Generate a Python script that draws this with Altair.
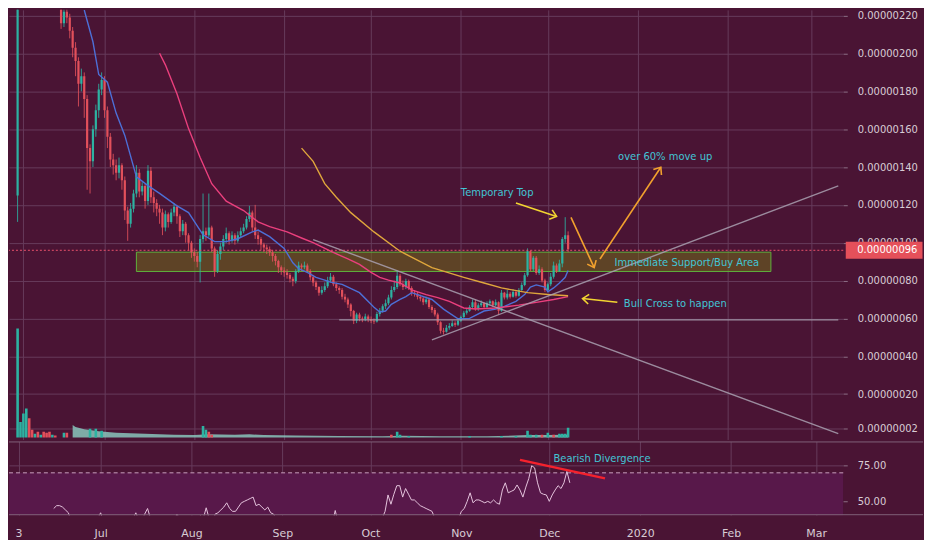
import altair as alt
import pandas as pd

# ---------------- values (prices in units of 1e-8) ----------------
first_open = 224
jun_close = [216, 222, 219, 212, 203, 196, 184, 188, 176, 150, 143, 160, 170, 181, 186]
jun_high = [226, 225, 224, 221, 214, 206, 198, 192, 190, 178, 152, 162, 173, 184, 190]
jun_low = [213, 214, 216, 208, 198, 188, 172, 180, 166, 128, 126, 140, 156, 166, 178]

jul_close = [170, 156, 144, 141, 137, 141, 133, 117, 110, 118, 126, 137, 127, 130, 122, 138,
             124, 121, 118, 116, 108, 115, 111, 116, 119, 114, 106, 110, 104, 100, 95]
jul_high = [188, 172, 158, 147, 144, 145, 142, 135, 119, 121, 128, 141, 139, 132, 131, 141,
            140, 127, 123, 120, 118, 117, 116, 118, 121, 120, 115, 112, 111, 105, 101]
jul_low = [166, 150, 140, 136, 133, 134, 128, 112, 101, 108, 116, 124, 124, 125, 118, 120,
           121, 116, 114, 110, 104, 106, 108, 110, 114, 110, 103, 104, 100, 96, 92]

aug_close = [93, 90, 102, 106, 104, 108, 97, 85, 94, 98, 102, 105, 101, 104, 101, 104,
             106, 108, 112.5, 116, 108, 104, 102, 99, 97.5, 96.5, 95, 93, 90.4, 87, 85.3]
aug_high = [97, 95, 104, 126, 108, 126, 109, 98, 96, 100, 104, 108, 106, 106, 105, 106,
            108, 110, 114, 119.5, 117, 120, 106, 103, 100, 99, 98, 96, 94, 91, 88]
aug_low = [90, 87, 79, 100, 101, 103, 95, 82, 84, 91, 96, 100, 99, 100, 99, 100,
           103, 105, 107, 111, 106, 102, 99, 96, 95, 94, 93, 90, 88, 84, 83]

sep_close = [84.3, 83, 81, 79.7, 85, 88, 87, 88, 85, 81.7, 79, 76.6, 73.6, 75, 77, 80,
             82, 78, 76, 75, 71.5, 70, 67.4, 63.9, 58.8, 62, 60, 59.5, 61, 59.5]
sep_high = [87, 86, 84, 82, 86, 90, 89, 90, 89, 86, 83, 80, 77, 77, 79, 82,
            84, 83, 79, 77, 76, 73, 71, 68, 64.5, 63, 63, 61, 62.5, 62]
sep_low = [82, 81, 79, 77, 78.5, 84, 85, 86, 84, 80, 77, 75, 72, 72.5, 74, 76,
           79, 77, 74.5, 73, 70, 68.5, 65.5, 61, 57, 57.5, 58.5, 58, 58.5, 58]

oct_close = [58.8, 58.3, 62.3, 64, 66.4, 68, 71, 75, 76.6, 82.5, 78, 76.6, 79.7, 76, 73.6, 73,
             71.5, 70.5, 68.5, 70, 66, 64.5, 62, 58, 53.5, 53, 55, 56, 57.5, 56.7, 58.8]
oct_high = [61, 60, 63.5, 65.5, 67.5, 70, 72.5, 77, 80, 85.3, 83.5, 80, 81, 80.5, 77, 75,
            74, 72.5, 71.5, 71.5, 71, 67, 65.5, 63, 58.5, 55, 56.5, 57.5, 59, 58.5, 60]
oct_low = [57.5, 57, 57.8, 61, 63, 65, 67, 70, 74, 75.5, 77, 75, 75.5, 75, 72, 71.5,
           70, 69, 67, 67.5, 65, 63, 61, 56.5, 52, 51.5, 52.5, 54, 55.5, 55.5, 56]

nov_close = [60.8, 63, 64, 66, 68.5, 65, 67, 68, 66, 68, 69, 67, 68.5, 64, 73.6, 71,
             73, 71.5, 74, 72, 75, 77.7, 82.8, 95.5, 86, 92, 84, 86, 80, 75]
nov_high = [61.5, 64, 65, 67, 70, 70, 68, 69.5, 68.5, 69, 70, 69.5, 70, 69, 75, 74,
            75, 74, 75.5, 74.5, 76, 79, 84, 97, 96, 93, 93, 88, 87, 81]
nov_low = [58, 60, 62, 63.5, 65.5, 64, 64, 66, 65, 65.5, 67, 66, 66.5, 62, 63.5, 70,
           70, 70.5, 71, 71, 71.5, 74.5, 77, 82, 85, 85, 83, 83, 79, 74]

dec_close = [78, 82, 88, 85, 89, 102, 104, 96.5]
dec_high = [79, 84, 90, 89, 91, 103, 113.5, 106]
dec_low = [74, 77, 81, 84, 84.5, 87, 100, 95]

# the early pump candle of 1 June (mostly above the visible range)
big_candle = {"date": "2019-06-01T00:00:00", "open": 125, "close": 250, "high": 255, "low": 111}

# volume bars (arbitrary units) and volume average area
vol_dates = ["2019-06-01", "2019-06-02", "2019-06-03", "2019-06-04", "2019-06-05", "2019-06-06",
             "2019-06-07", "2019-06-08", "2019-06-09", "2019-06-10", "2019-06-11", "2019-06-12",
             "2019-06-13", "2019-06-14", "2019-06-17", "2019-06-18", "2019-06-26", "2019-06-28",
             "2019-06-30", "2019-08-04", "2019-08-05", "2019-08-06", "2019-08-07", "2019-10-08",
             "2019-10-10", "2019-10-11", "2019-10-14", "2019-11-04", "2019-11-15", "2019-11-20",
             "2019-11-24", "2019-11-25", "2019-11-27", "2019-11-29", "2019-12-01", "2019-12-03",
             "2019-12-05", "2019-12-06", "2019-12-07", "2019-12-08"]
vol_vals = [113, 16, 25, 30, 20, 8, 4, 6, 3, 6, 5, 6, 3, 2, 5, 5, 9, 9, 7, 12, 8, 6, 3, 3,
            6, 3, 1.5, 1.5, 1.5, 1.5, 7, 3, 3, 3, 5, 3, 4, 4, 4, 10]
vol_dirs = ["up", "up", "up", "up", "down", "down", "up", "down", "up", "down", "down", "down",
            "up", "down", "up", "down", "up", "up", "up", "up", "up", "down", "down", "down",
            "up", "up", "up", "up", "up", "up", "up", "up", "up", "down", "up", "down",
            "up", "up", "up", "up"]
vma_dates = ["2019-06-20", "2019-06-21", "2019-06-24", "2019-06-29", "2019-07-05", "2019-07-15",
             "2019-07-25", "2019-08-01", "2019-08-06", "2019-08-15", "2019-08-20", "2019-08-25",
             "2019-09-05", "2019-09-20", "2019-10-05", "2019-10-12", "2019-10-25", "2019-11-10",
             "2019-11-24", "2019-12-01", "2019-12-08"]
vma_vals = [13, 11, 8.5, 6.5, 5, 4, 3, 2.5, 3.5, 3, 3.3, 2.5, 2, 1.5, 1.3, 1.8, 1.3, 1.2,
            2.5, 2.5, 3]

# moving averages
blue_dates = ["2019-06-24", "2019-06-27", "2019-06-29", "2019-07-02", "2019-07-05", "2019-07-08",
              "2019-07-12", "2019-07-16", "2019-07-20", "2019-07-26", "2019-07-30", "2019-08-04",
              "2019-08-08", "2019-08-12", "2019-08-16", "2019-08-21", "2019-08-23", "2019-08-27",
              "2019-09-01", "2019-09-04", "2019-09-06", "2019-09-09", "2019-09-12", "2019-09-15",
              "2019-09-17", "2019-09-21", "2019-09-27", "2019-10-02", "2019-10-04", "2019-10-06",
              "2019-10-08", "2019-10-11", "2019-10-13", "2019-10-15", "2019-10-17", "2019-10-22",
              "2019-10-26", "2019-10-31", "2019-11-04", "2019-11-09", "2019-11-13", "2019-11-16",
              "2019-11-20", "2019-11-23", "2019-11-25", "2019-11-27", "2019-11-30", "2019-12-01",
              "2019-12-03", "2019-12-05", "2019-12-07", "2019-12-08"]
blue_vals = [223, 206.2, 188.9, 184.8, 168.5, 156.7, 134.8, 130.2, 126.1, 119.5, 115.9, 104.2,
             100.6, 100.6, 102.1, 105.7, 106.7, 103.2, 97, 89.4, 86.3, 84.3, 81.7, 80.2,
             79.2, 78, 73.6, 65.9, 63.4, 63.9, 67.4, 70, 71.5, 73.6, 72.6, 70,
             64.9, 59.8, 60, 63.9, 64.9, 66.4, 69, 72.6, 76.6, 77.7, 76.6, 74.1,
             76.1, 78.7, 81.7, 85.3]
pink_dates = ["2019-07-20", "2019-07-22", "2019-07-26", "2019-07-30", "2019-08-03", "2019-08-07",
              "2019-08-12", "2019-08-18", "2019-08-23", "2019-08-27", "2019-09-02", "2019-09-07",
              "2019-09-11", "2019-09-17", "2019-09-23", "2019-09-27", "2019-10-01", "2019-10-04",
              "2019-10-07", "2019-10-11", "2019-10-15", "2019-10-20", "2019-10-24", "2019-10-28",
              "2019-11-02", "2019-11-06", "2019-11-13", "2019-11-21", "2019-11-27", "2019-12-03",
              "2019-12-08"]
pink_vals = [200.1, 194, 178.7, 160.3, 145, 131.2, 122, 117, 111, 108.5, 105.7, 102.5,
             100, 95.5, 91.4, 88.5, 84.3, 81.7, 80.2, 78.7, 75.1, 72.6, 71, 69,
             65.5, 65, 65.5, 67, 68.5, 70, 71.5]
orange_dates = ["2019-09-07", "2019-09-11", "2019-09-15", "2019-09-19", "2019-09-24", "2019-10-02",
                "2019-10-11", "2019-10-22", "2019-11-02", "2019-11-09", "2019-11-15", "2019-11-24",
                "2019-12-01", "2019-12-08"]
orange_vals = [150, 143, 131.2, 124, 115.9, 105.7, 95.5, 86.8, 81.7, 78.7, 76.1, 73.6, 72.6, 72]

# RSI, daily from 15 June
rsi_jun = [45, 47, 47, 46, 44, 42, 36, 31, 28, 24, 20, 30, 34, 37, 39, 38]
rsi_jul = [42, 36, 33, 32, 30, 33, 30, 25, 22, 28, 33, 38, 42, 37, 36, 41, 45, 38, 35, 34,
           30, 35, 33, 36, 38, 36, 41, 38, 34, 32, 30]
rsi_aug = [28, 26, 36, 40, 38, 45.5, 38, 30, 41, 42, 44, 46, 49, 45, 43, 43, 46, 49, 50, 51,
           52, 53, 47, 48, 46, 44, 46, 42, 41, 37, 35]
rsi_sep = [36, 35, 34, 32, 37, 39, 38, 39, 36, 33, 31, 29, 27, 30, 32, 35, 37, 34, 43.6, 35,
           32, 30, 28, 25, 21, 27, 26, 26, 29, 27]
rsi_oct = [26, 25, 31, 34, 38, 43, 54.5, 48, 55, 61, 61, 53, 59, 55, 51, 51, 49, 47, 46, 45,
           44, 43, 38, 32, 24, 23, 28, 31, 34, 33, 37]
rsi_nov = [43, 45, 50, 56, 49, 51, 51, 50, 49, 50, 49, 51, 49, 48, 58, 63, 56, 57, 58, 61.5,
           58, 53, 60, 66, 75, 73.5, 63, 56, 55, 54.5]
rsi_dec = [50, 54.5, 58, 61, 59, 63, 71, 63]

# drawings on the chart
EDGE = "2020-03-10T06:00:00"
support_box = {"x1": "2019-07-12", "x2": "2020-02-16", "y1": 84.8, "y2": 95}
trend_x1 = ["2019-09-11", "2019-10-22", "2019-09-20"]
trend_x2 = [EDGE, EDGE, EDGE]
trend_y1 = [101.6, 48.6, 59.2]
trend_y2 = [-0.9, 130.0, 59.2]
current_price = 96
arrow_x1 = ["2019-11-20", "2019-12-09", "2019-12-19", "2019-12-25"]
arrow_y1 = [121, 113.4, 91.4, 68.5]
arrow_x2 = ["2019-12-04", "2019-12-17", "2020-01-09", "2019-12-13"]
arrow_y2 = [113.9, 86.8, 139.9, 70.5]
arrow_col = ["#f2d531", "#f2a12e", "#f2a12e", "#f2d531"]
arrow_ang = [18, 66, 304, 186]
note_text = ["Temporary Top", "over 60% move up", "Immediate Support/Buy Area", "Bull Cross to happen"]
note_x = ["2019-11-13T12:00:00", "2020-01-10T12:00:00", "2020-01-18", "2020-01-14"]
note_y = [126.1, 145.5, 89.4, 67.4]
div_line = {"x1": "2019-11-21", "x2": "2019-12-20", "y1": 79.1, "y2": 66.1}
div_note = {"t": "Bearish Divergence", "x": "2019-12-19", "y": 79.8}

# ---------------- styling ----------------
FONT = "DejaVu Sans"
BG = "#4a1434"
GRID = "#663b5b"
SEP = "#806078"
TICK = "#8c6f86"
TEXT = "#d8ccd4"
CYAN = "#42c5d5"
UP = "#2db2a2"
DOWN = "#e2505b"
BAND = "#58184a"
W, H_MAIN, H_RSI = 837, 431, 74


def ts(s):
    return s if "T" in s else s + "T00:00:00"


closes = jun_close + jul_close + aug_close + sep_close + oct_close + nov_close + dec_close
highs = jun_high + jul_high + aug_high + sep_high + oct_high + nov_high + dec_high
lows = jun_low + jul_low + aug_low + sep_low + oct_low + nov_low + dec_low
opens = [first_open] + closes[:-1]
dates = pd.date_range("2019-06-16", periods=len(closes), freq="D").strftime("%Y-%m-%dT%H:%M:%S").tolist()
candles = pd.DataFrame({"date": dates, "open": opens, "close": closes, "high": highs, "low": lows})
candles = pd.concat([pd.DataFrame([big_candle]), candles], ignore_index=True)
candles["high"] = candles[["high", "open", "close"]].max(axis=1)
candles["low"] = candles[["low", "open", "close"]].min(axis=1)
candles["dir"] = ["up" if c >= o else "down" for o, c in zip(candles["open"], candles["close"])]

vol_df = pd.DataFrame({"date": [ts(d) for d in vol_dates], "v": vol_vals, "dir": vol_dirs, "base": 0})
vma_df = pd.DataFrame({"date": [ts(d) for d in vma_dates], "v": vma_vals, "base": 0})
blue_df = pd.DataFrame({"date": [ts(d) for d in blue_dates], "v": blue_vals})
pink_df = pd.DataFrame({"date": [ts(d) for d in pink_dates], "v": pink_vals})
orange_df = pd.DataFrame({"date": [ts(d) for d in orange_dates], "v": orange_vals})
rsi_vals = rsi_jun + rsi_jul + rsi_aug + rsi_sep + rsi_oct + rsi_nov + rsi_dec
rsi_df = pd.DataFrame({
    "date": pd.date_range("2019-06-15", periods=len(rsi_vals), freq="D").strftime("%Y-%m-%dT%H:%M:%S").tolist(),
    "rsi": rsi_vals})
box_df = pd.DataFrame([{k: (ts(v) if isinstance(v, str) else v) for k, v in support_box.items()}])
trend_df = pd.DataFrame({"x1": [ts(d) for d in trend_x1], "x2": trend_x2, "y1": trend_y1, "y2": trend_y2})
arrow_df = pd.DataFrame({"x1": [ts(d) for d in arrow_x1], "y1": arrow_y1, "x2": [ts(d) for d in arrow_x2],
                         "y2": arrow_y2, "col": arrow_col, "ang": arrow_ang})
note_df = pd.DataFrame({"t": note_text, "x": [ts(d) for d in note_x], "y": note_y})
price_df = pd.DataFrame({"p": [current_price], "lab": ["0.00000096"]})
div_df = pd.DataFrame([{"x1": ts(div_line["x1"]), "x2": ts(div_line["x2"]), "y1": div_line["y1"], "y2": div_line["y2"]}])
divt_df = pd.DataFrame([{"t": div_note["t"], "x": ts(div_note["x"]), "y": div_note["y"]}])

# ---------------- scales & axes ----------------
XS = alt.Scale(domain=[alt.DateTime(year=2019, month=5, date=30, hours=18),
                       alt.DateTime(year=2020, month=3, date=10, hours=6)])
PS = alt.Scale(domain=[-3.98, 223.06], nice=False, zero=False)
VS = alt.Scale(domain=[-2, 443], nice=False, zero=False)
RS = alt.Scale(domain=[40.3, 92], nice=False, zero=False)
XVALS = [alt.DateTime(year=2019, month=6, date=3), alt.DateTime(year=2019, month=7, date=1),
         alt.DateTime(year=2019, month=8, date=1), alt.DateTime(year=2019, month=9, date=1),
         alt.DateTime(year=2019, month=10, date=1), alt.DateTime(year=2019, month=11, date=1),
         alt.DateTime(year=2019, month=12, date=1), alt.DateTime(year=2020, month=1, date=1),
         alt.DateTime(year=2020, month=2, date=1), alt.DateTime(year=2020, month=3, date=1)]
XA_MAIN = alt.Axis(values=XVALS, labels=False, ticks=False, domain=False, grid=True,
                   gridColor=GRID, title=None)
XA_RSI = alt.Axis(values=XVALS, grid=True, gridColor=GRID, ticks=False, domain=False,
                  labelExpr="month(datum.value) == 0 ? '2020' : (date(datum.value) == 3 ? '3' : timeFormat(datum.value, '%b'))",
                  labelColor=TEXT, labelFont=FONT, labelFontSize=11, labelPadding=12,
                  labelFlush=False, labelOverlap=False, labelAngle=0, title=None)
PAXIS = alt.Axis(orient="right", values=[2, 20, 40, 60, 80, 100, 120, 140, 160, 180, 200, 220],
                 labelExpr="format(datum.value * 1e-8, '.8f')", grid=True, gridColor=GRID,
                 ticks=True, tickSize=4, tickColor=TICK, domain=False, labelColor=TEXT,
                 labelFont=FONT, labelFontSize=10, labelPadding=10, title=None)
RAXIS = alt.Axis(orient="right", values=[50, 75], labelExpr="format(datum.value, '.2f')",
                 grid=True, gridColor=GRID, ticks=True, tickSize=4, tickColor=TICK, domain=False,
                 labelColor=TEXT, labelFont=FONT, labelFontSize=10, labelPadding=10, title=None)
DIRCOL = alt.Color("dir:N", scale=alt.Scale(domain=["up", "down"], range=[UP, DOWN]), legend=None)


def XM(f):
    return alt.X(f, type="temporal", scale=XS, axis=XA_MAIN)


def XR(f):
    return alt.X(f, type="temporal", scale=XS, axis=XA_RSI)


def PY(f):
    return alt.Y(f, type="quantitative", scale=PS, axis=PAXIS)


def RY(f):
    return alt.Y(f, type="quantitative", scale=RS, axis=RAXIS)


# ---------------- main price pane ----------------
vol_area = alt.Chart(vma_df).mark_area(color="#8ccfc4", opacity=0.8, clip=True).encode(
    x=XM("date"), y=alt.Y("v:Q", scale=VS, axis=None), y2="base")
vol_bars = alt.Chart(vol_df).mark_bar(size=2.6, clip=True).encode(
    x=XM("date"), y=alt.Y("v:Q", scale=VS, axis=None), y2="base", color=DIRCOL)

box = alt.Chart(box_df).mark_rect(fill="#6f6a1c", fillOpacity=0.55, stroke="#5fb03c",
                                  strokeWidth=1, clip=True).encode(
    x=XM("x1"), x2="x2", y=PY("y1"), y2="y2")
wicks = alt.Chart(candles).mark_rule(strokeWidth=1, opacity=0.85, clip=True).encode(
    x=XM("date"), y=PY("low"), y2="high", color=DIRCOL)
bodies = alt.Chart(candles).mark_bar(size=2.2, clip=True).encode(
    x=XM("date"), y=PY("open"), y2="close", color=DIRCOL)
blue = alt.Chart(blue_df).mark_line(color="#4d6fd6", strokeWidth=1.4, clip=True).encode(x=XM("date"), y=PY("v"))
pink = alt.Chart(pink_df).mark_line(color="#ea3f7d", strokeWidth=1.4, clip=True).encode(x=XM("date"), y=PY("v"))
orange = alt.Chart(orange_df).mark_line(color="#dfa63c", strokeWidth=1.4, clip=True).encode(x=XM("date"), y=PY("v"))
trends = alt.Chart(trend_df).mark_rule(color="#a9a0b0", strokeWidth=1.4, opacity=0.85, clip=True).encode(
    x=XM("x1"), x2="x2", y=PY("y1"), y2="y2")
price_line = alt.Chart(price_df).mark_rule(color="#e8506a", strokeDash=[2, 2], strokeWidth=1).encode(y=PY("p"))
arrows = alt.Chart(arrow_df).mark_rule(strokeWidth=1.6, clip=True).encode(
    x=XM("x1"), x2="x2", y=PY("y1"), y2="y2", color=alt.Color("col:N", scale=None))
heads = alt.Chart(arrow_df).mark_point(shape="M-1,-0.8L0,0L-1,0.8", size=150, filled=False,
                                       strokeWidth=1.6, opacity=1).encode(
    x=XM("x2"), y=PY("y2"), color=alt.Color("col:N", scale=None), angle=alt.Angle("ang:Q", scale=None))
notes = alt.Chart(note_df).mark_text(color=CYAN, font=FONT, fontSize=10, align="center",
                                     baseline="middle").encode(x=XM("x"), y=PY("y"), text="t:N")
price_box = alt.Chart(price_df).mark_point(shape="M-1,-0.22L1,-0.22L1,0.22L-1,0.22Z", size=5929,
                                           filled=True, color="#e5505a", opacity=1, strokeWidth=0).encode(
    x=alt.value(W + 41), y=PY("p"))
price_txt = alt.Chart(price_df).mark_text(color="#ffffff", font=FONT, fontSize=10, align="left",
                                          baseline="middle").encode(
    x=alt.value(W + 14), y=PY("p"), text="lab:N")

main = alt.layer(
    alt.layer(vol_area, vol_bars),
    alt.layer(box, wicks, bodies, blue, pink, orange, trends, price_line, arrows, heads, notes,
              price_box, price_txt),
).resolve_scale(y="independent").properties(width=W, height=H_MAIN)

# ---------------- RSI pane ----------------
band = alt.Chart(pd.DataFrame({"a": [30], "b": [70]})).mark_rect(color=BAND, clip=True).encode(
    x=alt.value(0), x2=alt.value(W), y=RY("a"), y2="b")
dashed = alt.Chart(pd.DataFrame({"p": [70]})).mark_rule(color="#c99fbe", strokeDash=[4, 3],
                                                        strokeWidth=1).encode(y=RY("p"))
rsi_line = alt.Chart(rsi_df).mark_line(color="#e4c3dc", strokeWidth=1, clip=True).encode(
    x=XR("date"), y=RY("rsi"))
div = alt.Chart(div_df).mark_rule(color="#f5222d", strokeWidth=2.5, clip=True).encode(
    x=XR("x1"), x2="x2", y=RY("y1"), y2="y2")
div_txt = alt.Chart(divt_df).mark_text(color=CYAN, font=FONT, fontSize=10, align="center",
                                       baseline="middle").encode(x=XR("x"), y=RY("y"), text="t:N")
sep_df = pd.DataFrame({"k": [0]})
sep_top = alt.Chart(sep_df).mark_rule(color=SEP, strokeWidth=1).encode(
    x=alt.value(0), x2=alt.value(W + 80), y=alt.value(0.5))
sep_bot = alt.Chart(sep_df).mark_rule(color=SEP, strokeWidth=1).encode(
    x=alt.value(0), x2=alt.value(W + 80), y=alt.value(H_RSI - 0.5))

rsi = alt.layer(band, dashed, rsi_line, div, div_txt, sep_top, sep_bot).properties(width=W, height=H_RSI)

chart = alt.vconcat(main, rsi, spacing=0).properties(
    padding={"left": 0, "top": 0, "right": 0, "bottom": 0}
).configure(background=BG).configure_view(stroke="transparent")

chart.save("out.html", embed_options={"renderer": "svg", "actions": False})
